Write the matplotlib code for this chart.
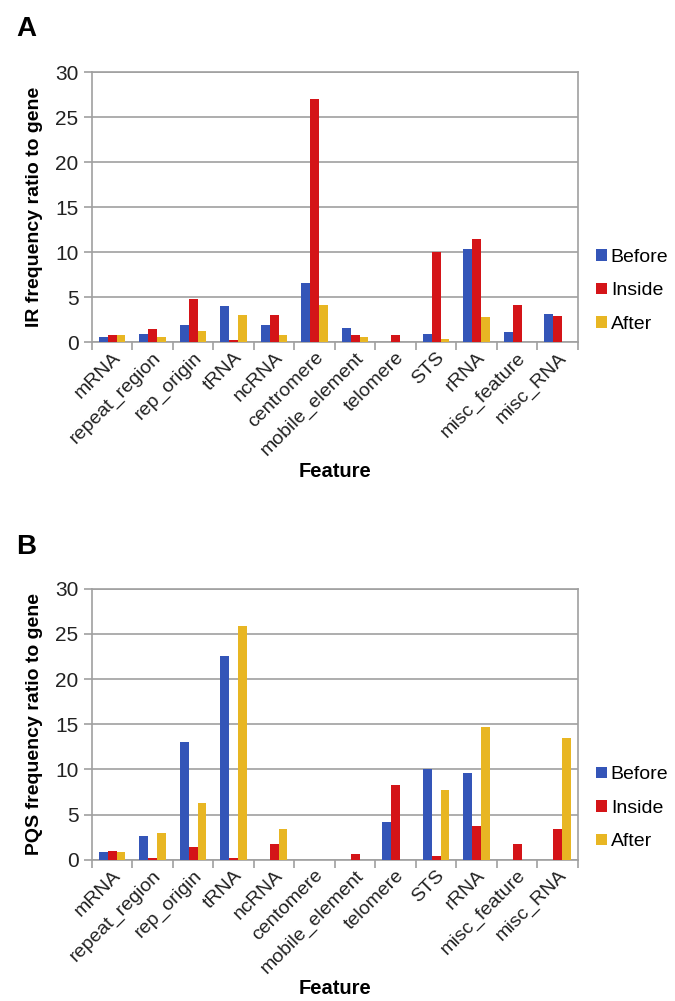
import matplotlib
matplotlib.use("Agg")
import matplotlib.pyplot as plt
import numpy as np

plt.rcParams["font.family"] = ["Liberation Sans", "DejaVu Sans"]

features_a = ["mRNA", "repeat_region", "rep_origin", "tRNA", "ncRNA", "centromere",
              "mobile_element", "telomere", "STS", "rRNA", "misc_feature", "misc_RNA"]
features_b = ["mRNA", "repeat_region", "rep_origin", "tRNA", "ncRNA", "centomere",
              "mobile_element", "telomere", "STS", "rRNA", "misc_feature", "misc_RNA"]

ir_before = [0.63, 0.92, 1.9, 4.0, 1.9, 6.55, 1.63, 0, 0.96, 10.34, 1.15, 3.2]
ir_inside = [0.8, 1.48, 4.85, 0.25, 3.07, 27.0, 0.8, 0.85, 10.08, 11.5, 4.2, 2.88]
ir_after = [0.8, 0.63, 1.25, 3.07, 0.8, 4.1, 0.63, 0, 0.4, 2.77, 0, 0]

pqs_before = [0.88, 2.6, 13.0, 22.5, 0, 0, 0, 4.16, 10.05, 9.57, 0, 0]
pqs_inside = [1.03, 0.25, 1.4, 0.2, 1.73, 0, 0.66, 8.24, 0.48, 3.75, 1.73, 3.46]
pqs_after = [0.88, 2.98, 6.26, 25.9, 3.39, 0, 0, 0, 7.69, 14.72, 0, 13.5]

series = ["Before", "Inside", "After"]
colors = ["#3455b8", "#d41418", "#e8b623"]
grid_color = "#a0a0a0"
text_color = "#222222"


def draw_panel(ax, labels, values, ylabel):
    x = np.arange(len(labels))
    w = 0.22
    for i, (vals, name, c) in enumerate(zip(values, series, colors)):
        ax.bar(x + (i - 1) * w, vals, width=w, color=c, label=name, zorder=3)
    ax.set_xlim(-0.5, len(labels) - 0.5)
    ax.set_ylim(0, 30)
    ax.set_yticks(range(0, 31, 5))
    ax.yaxis.grid(True, color=grid_color, linewidth=1.2, zorder=0)
    for s in ax.spines.values():
        s.set_color(grid_color)
        s.set_linewidth(1.2)

    # boundary ticks as major, category labels as minor
    ax.set_xticks(np.arange(len(labels) + 1) - 0.5)
    ax.set_xticklabels([])
    ax.set_xticks(x, minor=True)
    ax.set_xticklabels(labels, minor=True, rotation=45, ha="right",
                       rotation_mode="anchor", fontsize=14, color=text_color)
    ax.tick_params(axis="x", which="major", length=6, color=grid_color, width=1.2)
    ax.tick_params(axis="x", which="minor", length=0, pad=5)
    ax.tick_params(axis="y", length=6, color=grid_color, width=1.2,
                   labelsize=15, labelcolor=text_color)
    ax.set_ylabel(ylabel, fontsize=14, fontweight="bold", labelpad=9)
    ax.set_xlabel("Feature", fontsize=14.5, fontweight="bold", labelpad=2)
    ax.legend(loc="center left", bbox_to_anchor=(1.0, 0.19), frameon=False,
              fontsize=14, handlelength=0.55, handleheight=0.55,
              handletextpad=0.2, labelspacing=0.85, borderaxespad=0.55)


fig = plt.figure(figsize=(6.75, 10.01), dpi=100)
ax1 = fig.add_axes([0.136, 0.658, 0.720, 0.270])
ax2 = fig.add_axes([0.136, 0.141, 0.720, 0.271])

draw_panel(ax1, features_a, [ir_before, ir_inside, ir_after], "IR frequency ratio to gene")
draw_panel(ax2, features_b, [pqs_before, pqs_inside, pqs_after], "PQS frequency ratio to gene")

fig.text(0.024, 0.971, "A", fontsize=20, fontweight="bold", va="center")
fig.text(0.024, 0.454, "B", fontsize=20, fontweight="bold", va="center")

fig.savefig("out.png", dpi=100)
